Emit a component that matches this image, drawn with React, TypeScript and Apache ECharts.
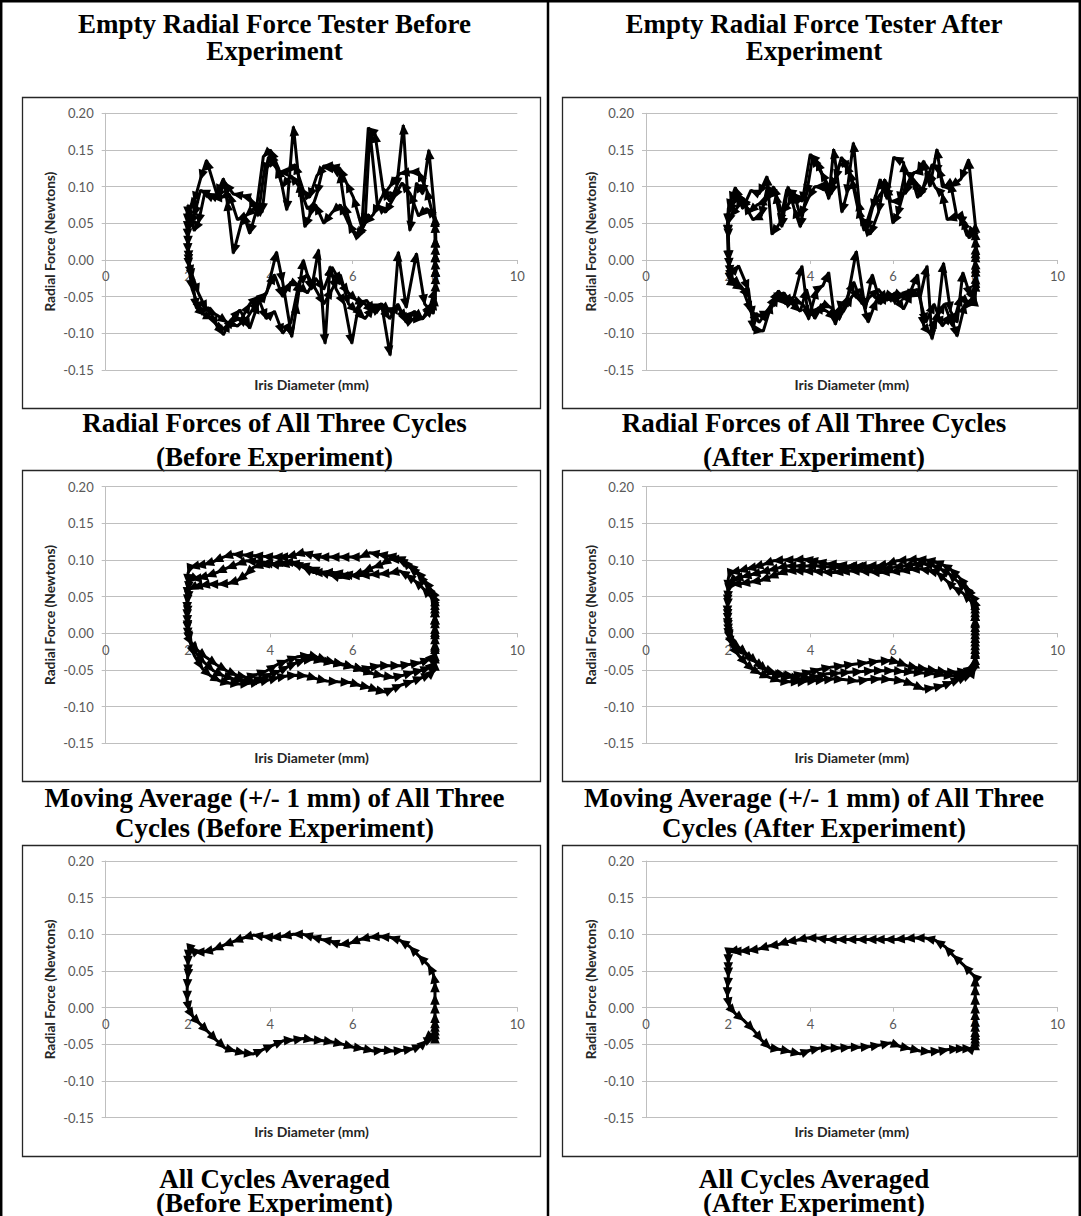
import React, { useEffect, useRef } from "react";
import * as echarts from "echarts";

type Pt = [number, number];

// ---------- axes ----------
const X_MIN = 0;
const X_MAX = 10;
const X_STEP = 2;
const Y_MIN = -0.15;
const Y_MAX = 0.2;
const Y_STEP = 0.05;
const X_AXIS_NAME = "Iris Diameter (mm)";
const Y_AXIS_NAME = "Radial Force (Newtons)";

// ---------- headings & captions ----------
const HEADINGS = [
  "Empty Radial Force Tester Before\nExperiment",
  "Empty Radial Force Tester After\nExperiment",
];
const CAPTIONS_BEFORE = [
  "Radial Forces of All Three Cycles\n(Before Experiment)",
  "Moving Average (+/- 1 mm) of All Three\nCycles (Before Experiment)",
  "All Cycles Averaged\n(Before Experiment)",
];
const CAPTIONS_AFTER = [
  "Radial Forces of All Three Cycles\n(After Experiment)",
  "Moving Average (+/- 1 mm) of All Three\nCycles (After Experiment)",
  "All Cycles Averaged\n(After Experiment)",
];

// ---------- raw cycles, before experiment ----------
const rawBeforeCycle1: Pt[] = [
  [8.0, 0.06], [7.85, 0.15], [7.7, 0.09], [7.55, 0.105], [7.39, 0.04], [7.23, 0.184], [7.07, 0.1],
  [6.9, 0.08], [6.74, 0.095], [6.54, 0.173], [6.38, 0.18], [6.22, 0.045], [6.02, 0.085], [5.85, 0.105],
  [5.69, 0.125], [5.45, 0.128], [5.29, 0.128], [5.13, 0.09], [4.95, 0.06], [4.84, 0.045], [4.7, 0.105],
  [4.56, 0.182], [4.4, 0.068], [4.2, 0.125], [4.0, 0.15], [3.83, 0.141], [3.65, 0.065], [3.5, 0.036],
  [3.35, 0.062], [3.1, 0.009], [2.95, 0.08], [2.86, 0.111], [2.7, 0.09], [2.45, 0.136], [2.3, 0.11],
  [2.15, 0.08], [2.05, 0.072],
  [2.0, 0.07], [1.98, 0.05], [2.0, 0.03], [2.02, 0.0],
  [2.1, -0.025], [2.2, -0.065], [2.4, -0.075], [2.6, -0.08], [2.86, -0.102], [3.0, -0.085], [3.26, -0.068],
  [3.5, -0.093], [3.7, -0.06], [3.91, -0.045], [4.15, 0.011], [4.3, -0.03], [4.52, -0.105], [4.65, -0.06],
  [4.8, 0.0], [5.0, -0.04], [5.17, 0.014], [5.33, -0.114], [5.45, -0.009], [5.6, -0.04], [5.8, -0.06],
  [5.98, -0.114], [6.15, -0.06], [6.34, -0.055], [6.5, -0.07], [6.7, -0.06], [6.91, -0.13], [7.11, 0.011],
  [7.3, -0.065], [7.55, 0.009], [7.75, -0.06], [7.96, -0.073],
  [8.0, -0.05], [8.02, -0.02], [8.0, 0.0], [8.02, 0.02], [8.0, 0.05],
];
const rawBeforeCycle2: Pt[] = [
  [8.0, 0.05], [7.8, 0.095], [7.6, 0.12], [7.39, 0.12], [7.15, 0.118], [6.9, 0.1], [6.7, 0.085],
  [6.5, 0.062], [6.3, 0.05], [6.14, 0.032], [6.0, 0.04], [5.8, 0.075], [5.69, 0.118], [5.5, 0.125],
  [5.3, 0.126], [5.13, 0.115], [4.95, 0.085], [4.8, 0.095], [4.6, 0.13], [4.4, 0.12], [4.2, 0.12],
  [4.0, 0.145], [3.85, 0.12], [3.7, 0.06], [3.5, 0.085], [3.3, 0.088], [3.1, 0.09], [2.9, 0.105],
  [2.7, 0.085], [2.5, 0.09], [2.3, 0.095], [2.15, 0.06], [2.05, 0.05],
  [2.0, 0.04], [2.0, 0.02], [2.02, -0.005],
  [2.1, -0.02], [2.25, -0.045], [2.45, -0.068], [2.7, -0.075], [2.95, -0.085], [3.2, -0.09], [3.45, -0.078],
  [3.7, -0.055], [3.9, -0.045], [4.1, -0.02], [4.3, -0.05], [4.5, -0.03], [4.7, -0.035], [4.9, -0.045],
  [5.1, -0.025], [5.3, -0.04], [5.5, -0.01], [5.7, -0.03], [5.9, -0.045], [6.1, -0.055], [6.3, -0.06],
  [6.5, -0.07], [6.7, -0.065], [6.9, -0.08], [7.1, -0.06], [7.3, -0.085], [7.5, -0.08], [7.7, -0.08],
  [7.9, -0.06],
  [8.0, -0.04], [8.02, -0.01], [8.0, 0.01], [8.02, 0.03], [8.0, 0.06],
];
const rawBeforeCycle3: Pt[] = [
  [8.0, 0.058], [7.8, 0.07], [7.6, 0.06], [7.4, 0.09], [7.2, 0.105], [7.0, 0.085], [6.8, 0.065],
  [6.6, 0.075], [6.42, 0.175], [6.3, 0.05], [6.1, 0.03], [5.9, 0.05], [5.7, 0.075], [5.5, 0.065],
  [5.3, 0.05], [5.1, 0.075], [4.9, 0.07], [4.7, 0.1], [4.5, 0.115], [4.3, 0.1], [4.15, 0.125],
  [3.95, 0.14], [3.8, 0.065], [3.6, 0.07], [3.4, 0.06], [3.2, 0.055], [3.0, 0.09], [2.8, 0.085],
  [2.6, 0.085], [2.4, 0.09], [2.25, 0.05], [2.15, 0.04], [2.05, 0.06], [2.0, 0.075],
  [2.0, 0.06], [1.98, 0.04], [2.0, 0.01], [2.02, -0.01],
  [2.1, -0.04], [2.3, -0.07], [2.5, -0.065], [2.7, -0.09], [2.9, -0.095], [3.1, -0.08], [3.3, -0.08],
  [3.5, -0.06], [3.7, -0.05], [3.9, -0.08], [4.1, -0.07], [4.3, -0.1], [4.5, -0.085], [4.7, -0.03],
  [4.9, -0.02], [5.1, -0.04], [5.3, -0.06], [5.5, -0.04], [5.7, -0.02], [5.9, -0.06], [6.1, -0.07],
  [6.3, -0.08], [6.5, -0.065], [6.7, -0.06], [6.9, -0.07], [7.1, -0.065], [7.3, -0.08], [7.5, -0.07],
  [7.7, -0.08], [7.95, -0.065],
  [8.0, -0.055], [8.02, -0.03], [8.0, -0.01], [8.02, 0.01], [8.0, 0.03], [8.0, 0.058],
];

// ---------- raw cycles, after experiment ----------
const rawAfterCycle1: Pt[] = [
  [8.0, 0.05], [7.84, 0.137], [7.65, 0.11], [7.4, 0.1], [7.2, 0.1], [7.07, 0.151], [6.9, 0.1],
  [6.75, 0.135], [6.6, 0.12], [6.5, 0.119], [6.3, 0.09], [6.26, 0.133], [6.02, 0.14], [5.86, 0.083],
  [5.69, 0.11], [5.5, 0.07], [5.37, 0.042], [5.21, 0.06], [5.04, 0.16], [4.88, 0.09], [4.76, 0.065],
  [4.56, 0.151], [4.44, 0.083], [4.35, 0.108], [4.15, 0.135], [3.99, 0.144], [3.8, 0.08], [3.6, 0.09],
  [3.42, 0.096], [3.25, 0.05], [3.06, 0.035], [2.94, 0.114], [2.75, 0.09], [2.55, 0.095], [2.35, 0.07],
  [2.17, 0.099], [2.05, 0.08],
  [2.0, 0.07], [1.98, 0.05], [2.0, 0.035], [2.02, 0.0],
  [2.05, -0.02], [2.25, -0.008], [2.49, -0.04], [2.61, -0.095], [2.85, -0.097], [3.05, -0.06], [3.22, -0.042],
  [3.42, -0.058], [3.6, -0.05], [3.79, -0.008], [3.95, -0.081], [4.15, -0.04], [4.3, -0.035], [4.44, -0.017],
  [4.6, -0.088], [4.75, -0.06], [4.88, -0.058], [5.11, 0.012], [5.33, -0.067], [5.5, -0.02], [5.7, -0.06],
  [5.86, -0.047], [6.05, -0.05], [6.26, -0.067], [6.45, -0.045], [6.67, -0.049], [6.83, -0.008], [6.95, -0.108],
  [7.1, -0.07], [7.23, -0.004], [7.4, -0.07], [7.56, -0.085], [7.7, -0.017], [7.88, -0.049], [8.0, -0.04],
  [8.02, -0.02], [8.0, 0.0], [8.02, 0.02], [8.0, 0.05],
];
const rawAfterCycle2: Pt[] = [
  [8.0, 0.045], [7.8, 0.033], [7.64, 0.06], [7.5, 0.058], [7.32, 0.055], [7.2, 0.09], [7.03, 0.099],
  [6.85, 0.12], [6.67, 0.087], [6.5, 0.11], [6.3, 0.1], [6.1, 0.06], [6.0, 0.05], [5.86, 0.1],
  [5.7, 0.09], [5.5, 0.075], [5.3, 0.04], [5.15, 0.07], [5.0, 0.11], [4.85, 0.13], [4.7, 0.13],
  [4.5, 0.09], [4.3, 0.1], [4.1, 0.1], [3.95, 0.085], [3.75, 0.06], [3.6, 0.09], [3.45, 0.075],
  [3.3, 0.065], [3.1, 0.1], [2.9, 0.08], [2.7, 0.075], [2.5, 0.065], [2.35, 0.085], [2.2, 0.07],
  [2.05, 0.06],
  [2.0, 0.05], [2.0, 0.03], [2.02, -0.01],
  [2.1, -0.025], [2.3, -0.035], [2.5, -0.05], [2.6, -0.076], [2.8, -0.075], [3.0, -0.07], [3.2, -0.05],
  [3.4, -0.06], [3.6, -0.055], [3.8, -0.06], [4.0, -0.075], [4.2, -0.065], [4.4, -0.07], [4.6, -0.08],
  [4.8, -0.07], [5.0, -0.05], [5.2, -0.04], [5.4, -0.085], [5.6, -0.055], [5.8, -0.05], [6.0, -0.055],
  [6.2, -0.05], [6.4, -0.045], [6.6, -0.04], [6.8, -0.085], [7.0, -0.06], [7.2, -0.09], [7.4, -0.075],
  [7.56, -0.104], [7.75, -0.06], [7.95, -0.055],
  [8.0, -0.045], [8.02, -0.025], [8.0, -0.005], [8.02, 0.015], [8.0, 0.04],
];
const rawAfterCycle3: Pt[] = [
  [8.0, 0.04], [7.85, 0.03], [7.7, 0.055], [7.55, 0.06], [7.4, 0.105], [7.25, 0.1], [7.1, 0.125],
  [6.95, 0.13], [6.8, 0.105], [6.6, 0.085], [6.45, 0.115], [6.3, 0.12], [6.15, 0.08], [5.95, 0.08],
  [5.8, 0.11], [5.65, 0.065], [5.45, 0.035], [5.3, 0.045], [5.15, 0.08], [4.95, 0.12], [4.75, 0.14],
  [4.6, 0.11], [4.45, 0.1], [4.25, 0.12], [4.05, 0.14], [3.9, 0.09], [3.75, 0.045], [3.6, 0.07],
  [3.45, 0.1], [3.3, 0.045], [3.15, 0.09], [2.95, 0.1], [2.8, 0.06], [2.6, 0.055], [2.4, 0.075],
  [2.25, 0.09], [2.1, 0.075], [2.02, 0.065],
  [2.0, 0.05], [1.98, 0.035], [2.0, 0.0],
  [2.05, -0.03], [2.2, -0.035], [2.35, -0.04], [2.55, -0.07], [2.75, -0.085], [2.95, -0.07], [3.15, -0.05],
  [3.35, -0.045], [3.55, -0.06], [3.75, -0.07], [3.9, -0.04], [4.1, -0.08], [4.3, -0.06], [4.5, -0.065],
  [4.7, -0.08], [4.9, -0.05], [5.05, -0.03], [5.25, -0.06], [5.45, -0.05], [5.65, -0.04], [5.85, -0.055],
  [6.05, -0.045], [6.25, -0.05], [6.45, -0.04], [6.6, -0.02], [6.75, -0.09], [6.9, -0.1], [7.05, -0.08],
  [7.25, -0.06], [7.45, -0.09], [7.65, -0.05], [7.85, -0.06], [7.98, -0.06],
  [8.0, -0.05], [8.02, -0.03], [8.0, -0.01], [8.02, 0.01], [8.0, 0.03],
];

// ---------- moving averages (+/- 1 mm), before experiment ----------
const movingBeforeCycle1: Pt[] = [
  [8.0, 0.045], [7.92, 0.054], [7.8, 0.065], [7.6, 0.08], [7.39, 0.09], [7.23, 0.1], [7.05, 0.104],
  [6.83, 0.106], [6.62, 0.108], [6.42, 0.11], [6.18, 0.104], [5.94, 0.104], [5.69, 0.104], [5.45, 0.104],
  [5.2, 0.104], [5.0, 0.107], [4.8, 0.11], [4.6, 0.107], [4.4, 0.104], [4.2, 0.104], [4.07, 0.104],
  [3.83, 0.105], [3.59, 0.106], [3.35, 0.107], [3.1, 0.108], [2.86, 0.104], [2.62, 0.098], [2.4, 0.094],
  [2.2, 0.092], [2.05, 0.09],
  [2.0, 0.082], [1.99, 0.068], [1.98, 0.05], [1.98, 0.03], [1.99, 0.012], [2.0, -0.005],
  [2.1, -0.015], [2.25, -0.024], [2.45, -0.033], [2.7, -0.043], [2.94, -0.051], [3.18, -0.057], [3.42, -0.06],
  [3.67, -0.056], [3.91, -0.051], [4.15, -0.043], [4.4, -0.037], [4.65, -0.032], [4.96, -0.03], [5.17, -0.033],
  [5.37, -0.037], [5.57, -0.04], [5.77, -0.042], [6.02, -0.046], [6.26, -0.049], [6.46, -0.046], [6.66, -0.044],
  [6.9, -0.044], [7.15, -0.044], [7.4, -0.042], [7.64, -0.04], [7.88, -0.035], [8.0, -0.028],
  [8.0, -0.015], [8.0, -0.002], [8.0, 0.012], [8.0, 0.025], [8.0, 0.035], [8.0, 0.045],
];
const movingBeforeCycle2: Pt[] = [
  [8.0, 0.05], [7.9, 0.06], [7.75, 0.072], [7.55, 0.085], [7.35, 0.094], [7.1, 0.101], [6.9, 0.101],
  [6.7, 0.094], [6.5, 0.09], [6.26, 0.084], [6.02, 0.079], [5.77, 0.081], [5.53, 0.083], [5.29, 0.083],
  [5.04, 0.083], [4.8, 0.09], [4.56, 0.097], [4.32, 0.097], [4.07, 0.095], [3.83, 0.097], [3.59, 0.098],
  [3.42, 0.099], [3.18, 0.094], [2.94, 0.089], [2.7, 0.083], [2.45, 0.078], [2.25, 0.075], [2.1, 0.074],
  [2.02, 0.07], [2.0, 0.058], [1.98, 0.04], [1.98, 0.02], [2.0, 0.003], [2.05, -0.01],
  [2.2, -0.027], [2.4, -0.04], [2.62, -0.051], [2.86, -0.058], [3.1, -0.062], [3.35, -0.064], [3.59, -0.065],
  [3.83, -0.06], [4.03, -0.055], [4.23, -0.051], [4.44, -0.045], [4.64, -0.04], [4.84, -0.036], [5.04, -0.035],
  [5.29, -0.038], [5.53, -0.04], [5.77, -0.043], [6.02, -0.046], [6.26, -0.051], [6.5, -0.055], [6.74, -0.058],
  [6.99, -0.06], [7.23, -0.057], [7.47, -0.053], [7.7, -0.05], [7.88, -0.046], [8.0, -0.04],
  [8.0, -0.028], [8.0, -0.012], [8.0, 0.005], [8.0, 0.02], [8.0, 0.035], [8.0, 0.05],
];
const movingBeforeCycle3: Pt[] = [
  [8.0, 0.04], [7.9, 0.05], [7.7, 0.062], [7.5, 0.072], [7.3, 0.08], [7.15, 0.085], [6.9, 0.082],
  [6.66, 0.081], [6.42, 0.08], [6.18, 0.079], [5.94, 0.079], [5.69, 0.076], [5.45, 0.08], [5.2, 0.084],
  [4.96, 0.09], [4.72, 0.094], [4.48, 0.096], [4.23, 0.093], [3.99, 0.095], [3.75, 0.093], [3.59, 0.09],
  [3.4, 0.08], [3.2, 0.072], [2.98, 0.068], [2.74, 0.067], [2.5, 0.067], [2.3, 0.065], [2.13, 0.063],
  [2.02, 0.06], [2.0, 0.045], [1.98, 0.025], [2.0, 0.005], [2.05, -0.012],
  [2.15, -0.03], [2.35, -0.048], [2.55, -0.058], [2.78, -0.065], [3.02, -0.068], [3.26, -0.069], [3.5, -0.068],
  [3.75, -0.066], [3.99, -0.063], [4.2, -0.06], [4.4, -0.058], [4.64, -0.057], [4.88, -0.058], [5.13, -0.062],
  [5.37, -0.065], [5.65, -0.066], [5.94, -0.067], [6.18, -0.071], [6.42, -0.074], [6.62, -0.078], [6.8, -0.08],
  [7.0, -0.075], [7.2, -0.07], [7.47, -0.065], [7.7, -0.06], [7.9, -0.055], [8.0, -0.05],
  [8.0, -0.038], [8.0, -0.025], [8.0, -0.01], [8.0, 0.008], [8.0, 0.025], [8.0, 0.04],
];

// ---------- moving averages (+/- 1 mm), after experiment ----------
const movingAfterCycle1: Pt[] = [
  [8.0, 0.04], [7.95, 0.048], [7.8, 0.063], [7.6, 0.077], [7.39, 0.088], [7.2, 0.094], [7.0, 0.098],
  [6.8, 0.1], [6.58, 0.101], [6.35, 0.1], [6.1, 0.099], [5.85, 0.094], [5.61, 0.092], [5.37, 0.092],
  [5.13, 0.092], [4.9, 0.092], [4.65, 0.094], [4.4, 0.095], [4.15, 0.098], [3.95, 0.1], [3.83, 0.101],
  [3.6, 0.1], [3.35, 0.1], [3.1, 0.099], [2.86, 0.094], [2.62, 0.09], [2.45, 0.088], [2.25, 0.085],
  [2.05, 0.083],
  [2.0, 0.075], [1.99, 0.06], [1.98, 0.04], [1.99, 0.02], [2.0, 0.005], [2.02, -0.005],
  [2.15, -0.015], [2.3, -0.021], [2.45, -0.028], [2.7, -0.04], [2.94, -0.051], [3.18, -0.055], [3.4, -0.057],
  [3.59, -0.058], [3.83, -0.055], [4.03, -0.052], [4.23, -0.049], [4.5, -0.046], [4.8, -0.044], [5.05, -0.042],
  [5.37, -0.04], [5.65, -0.038], [5.94, -0.037], [6.15, -0.04], [6.34, -0.044], [6.6, -0.047], [6.83, -0.049],
  [7.07, -0.051], [7.31, -0.053], [7.55, -0.053], [7.8, -0.051], [7.95, -0.045], [8.0, -0.035],
  [8.0, -0.022], [8.0, -0.01], [8.0, 0.005], [8.0, 0.02], [8.0, 0.03], [8.0, 0.04],
];
const movingAfterCycle2: Pt[] = [
  [8.0, 0.045], [7.88, 0.054], [7.72, 0.064], [7.55, 0.072], [7.35, 0.082], [7.15, 0.088], [6.95, 0.093],
  [6.74, 0.095], [6.5, 0.094], [6.26, 0.092], [6.02, 0.09], [5.77, 0.088], [5.53, 0.089], [5.3, 0.091],
  [5.05, 0.091], [4.85, 0.09], [4.64, 0.09], [4.4, 0.091], [4.15, 0.092], [3.9, 0.092], [3.65, 0.092],
  [3.42, 0.092], [3.2, 0.089], [2.98, 0.086], [2.78, 0.083], [2.55, 0.08], [2.33, 0.077], [2.13, 0.074],
  [2.02, 0.068], [2.0, 0.055], [1.98, 0.035], [1.99, 0.015], [2.02, 0.0], [2.05, -0.01],
  [2.25, -0.02], [2.45, -0.03], [2.62, -0.037], [2.86, -0.047], [3.1, -0.055], [3.35, -0.058], [3.55, -0.06],
  [3.75, -0.062], [3.99, -0.06], [4.2, -0.058], [4.4, -0.055], [4.7, -0.054], [4.96, -0.053], [5.25, -0.052],
  [5.53, -0.051], [5.77, -0.051], [6.02, -0.051], [6.26, -0.052], [6.5, -0.053], [6.74, -0.054], [6.99, -0.055],
  [7.23, -0.057], [7.47, -0.058], [7.7, -0.056], [7.88, -0.053], [8.0, -0.045],
  [8.0, -0.03], [8.0, -0.015], [8.0, 0.0], [8.0, 0.015], [8.0, 0.03], [8.0, 0.045],
];
const movingAfterCycle3: Pt[] = [
  [8.0, 0.035], [7.88, 0.045], [7.7, 0.055], [7.47, 0.063], [7.3, 0.072], [7.07, 0.083], [6.85, 0.086],
  [6.66, 0.088], [6.42, 0.087], [6.18, 0.085], [5.94, 0.084], [5.69, 0.083], [5.45, 0.084], [5.2, 0.085],
  [4.96, 0.085], [4.72, 0.084], [4.56, 0.083], [4.3, 0.084], [4.07, 0.085], [3.83, 0.085], [3.6, 0.086],
  [3.42, 0.085], [3.2, 0.081], [2.98, 0.076], [2.78, 0.072], [2.55, 0.07], [2.3, 0.068], [2.09, 0.067],
  [2.0, 0.06], [1.98, 0.045], [1.98, 0.025], [2.0, 0.008], [2.05, -0.008], [2.09, -0.017],
  [2.25, -0.03], [2.45, -0.042], [2.62, -0.05], [2.78, -0.055], [3.0, -0.06], [3.26, -0.065], [3.5, -0.066],
  [3.75, -0.066], [3.91, -0.065], [4.15, -0.064], [4.35, -0.063], [4.56, -0.062], [4.8, -0.063], [5.13, -0.065],
  [5.4, -0.063], [5.69, -0.062], [5.95, -0.063], [6.26, -0.065], [6.5, -0.07], [6.74, -0.076], [7.0, -0.074],
  [7.23, -0.071], [7.45, -0.066], [7.64, -0.062], [7.8, -0.058], [7.92, -0.055], [8.0, -0.048],
  [8.0, -0.035], [8.0, -0.02], [8.0, -0.005], [8.0, 0.01], [8.0, 0.022], [8.0, 0.035],
];

// ---------- all cycles averaged ----------
const averagedBefore: Pt[] = [
  [8.0, -0.042], [8.0, -0.036], [8.0, -0.03], [8.0, -0.025], [8.0, -0.02], [8.0, -0.015], [8.0, -0.008],
  [8.0, 0.005], [8.0, 0.017], [8.0, 0.034], [7.96, 0.046],
  [7.84, 0.058], [7.6, 0.071], [7.39, 0.083], [7.15, 0.092], [6.91, 0.096], [6.66, 0.097], [6.42, 0.096],
  [6.18, 0.093], [5.94, 0.088], [5.69, 0.086], [5.45, 0.091], [5.25, 0.093], [5.0, 0.097], [4.8, 0.1],
  [4.56, 0.1], [4.28, 0.097], [4.03, 0.096], [3.83, 0.097], [3.59, 0.099], [3.34, 0.095], [3.1, 0.09],
  [2.86, 0.085], [2.62, 0.079], [2.37, 0.076], [2.17, 0.076], [2.05, 0.082],
  [2.01, 0.074], [2.0, 0.066], [2.0, 0.058], [2.0, 0.046], [1.99, 0.04], [1.98, 0.026], [1.98, 0.01],
  [2.03, -0.004], [2.13, -0.013], [2.29, -0.022], [2.49, -0.033], [2.7, -0.045], [2.9, -0.055], [3.14, -0.059],
  [3.38, -0.062], [3.59, -0.063], [3.83, -0.057], [4.07, -0.051], [4.32, -0.045], [4.56, -0.044], [4.8, -0.042],
  [5.04, -0.044], [5.29, -0.045], [5.53, -0.047], [5.77, -0.05], [6.02, -0.054], [6.26, -0.056], [6.5, -0.059],
  [6.74, -0.058], [6.99, -0.059], [7.23, -0.058], [7.47, -0.056], [7.68, -0.051], [7.8, -0.045], [7.96, -0.041],
  [8.0, -0.042],
];
const averagedAfter: Pt[] = [
  [8.0, -0.049], [8.0, -0.045], [8.0, -0.04], [8.0, -0.036], [8.0, -0.031], [8.0, -0.027], [8.0, -0.02],
  [8.0, -0.013], [8.0, -0.004], [8.0, 0.005], [8.0, 0.017], [8.0, 0.03], [8.0, 0.042], [7.92, 0.046],
  [7.72, 0.058], [7.47, 0.071], [7.27, 0.083], [7.03, 0.092], [6.79, 0.095], [6.54, 0.095], [6.3, 0.094],
  [6.06, 0.093], [5.81, 0.093], [5.57, 0.093], [5.37, 0.093], [5.13, 0.093], [4.88, 0.093], [4.64, 0.093],
  [4.4, 0.093], [4.15, 0.095], [3.91, 0.095], [3.67, 0.092], [3.42, 0.09], [3.22, 0.086], [2.98, 0.084],
  [2.74, 0.08], [2.49, 0.078], [2.29, 0.077], [2.09, 0.077], [2.01, 0.076],
  [2.0, 0.069], [2.0, 0.06], [2.0, 0.049], [2.0, 0.042], [1.98, 0.028], [1.98, 0.015], [2.03, 0.001],
  [2.17, -0.008], [2.37, -0.017], [2.62, -0.031], [2.82, -0.045], [3.02, -0.055], [3.26, -0.057], [3.51, -0.06],
  [3.75, -0.063], [3.99, -0.058], [4.23, -0.055], [4.48, -0.055], [4.72, -0.055], [4.96, -0.054], [5.21, -0.054],
  [5.45, -0.053], [5.69, -0.051], [5.94, -0.048], [6.18, -0.053], [6.42, -0.056], [6.66, -0.059], [6.91, -0.06],
  [7.15, -0.059], [7.35, -0.057], [7.6, -0.056], [7.76, -0.056], [7.92, -0.056], [8.0, -0.051],
];

// Panels in reading order: row by row, before (left) then after (right).
const PANEL_SERIES: Pt[][][] = [
  [rawBeforeCycle1, rawBeforeCycle2, rawBeforeCycle3],
  [rawAfterCycle1, rawAfterCycle2, rawAfterCycle3],
  [movingBeforeCycle1, movingBeforeCycle2, movingBeforeCycle3],
  [movingAfterCycle1, movingAfterCycle2, movingAfterCycle3],
  [averagedBefore],
  [averagedAfter],
];

// ---------- page layout (pixels) ----------
const PAGE_W = 1081;
const PAGE_H = 1216;
const COLS = [
  { center: 274.5, boxX: 22, boxW: 518, plotX: 105.7, plotW: 411.6 },
  { center: 814, boxX: 562, boxW: 515, plotX: 646, plotW: 411.5 },
];
const ROWS = [
  { boxY: 97, plotY: 113.3 },
  { boxY: 470, plotY: 486.7 },
  { boxY: 845, plotY: 861 },
];
const BOX_H = 311;
const PLOT_H = 256.7;
// centre and line pitch of each two-line title block
const HEADING_BLOCK = { y: 37.5, pitch: 27 };
const CAPTION_BLOCKS = [
  { y: 439.75, pitch: 34.5 },
  { y: 813, pitch: 30 },
  { y: 1191, pitch: 23.5 },
];

const TITLE_FONT = {
  fontFamily: '"Liberation Serif", "Times New Roman", serif',
  fontWeight: "bold" as const,
  fontSize: 27,
};
const AXIS_FONT = '"Lato", "Open Sans", sans-serif';

// Arrowhead at the end of each segment, pointing along the direction of travel.
function renderArrow(_params: any, api: any) {
  const p = api.coord([api.value(0), api.value(1)]);
  const q = api.coord([api.value(2), api.value(3)]);
  const dx = p[0] - q[0];
  const dy = p[1] - q[1];
  const len = Math.hypot(dx, dy);
  if (len < 0.01) return { type: "group", children: [] };
  const ux = dx / len;
  const uy = dy / len;
  const nx = -uy;
  const ny = ux;
  const back = 9.5;
  const half = 4.8;
  const tip = 1.5;
  return {
    type: "polygon",
    shape: {
      points: [
        [p[0] + ux * tip, p[1] + uy * tip],
        [p[0] - ux * back + nx * half, p[1] - uy * back + ny * half],
        [p[0] - ux * back - nx * half, p[1] - uy * back - ny * half],
      ],
    },
    style: { fill: "#000" },
  };
}

function titleBlock(text: string, x: number, block: { y: number; pitch: number }) {
  return {
    type: "text",
    x,
    y: block.y,
    style: {
      text,
      fill: "#000",
      align: "center",
      verticalAlign: "middle",
      lineHeight: block.pitch,
      ...TITLE_FONT,
    },
  };
}

function buildOption() {
  const grids: any[] = [];
  const xAxes: any[] = [];
  const yAxes: any[] = [];
  const series: any[] = [];
  const graphic: any[] = [];

  // table rules
  const rule = { stroke: "#000", lineWidth: 2.5 };
  graphic.push(
    { type: "line", shape: { x1: 1.2, y1: 0, x2: 1.2, y2: PAGE_H }, style: rule },
    { type: "line", shape: { x1: 0, y1: 1.2, x2: PAGE_W, y2: 1.2 }, style: rule },
    { type: "line", shape: { x1: PAGE_W - 1.2, y1: 0, x2: PAGE_W - 1.2, y2: PAGE_H }, style: rule },
    { type: "line", shape: { x1: 548, y1: 0, x2: 548, y2: PAGE_H }, style: rule }
  );

  COLS.forEach((col, c) => {
    graphic.push(titleBlock(HEADINGS[c], col.center, HEADING_BLOCK));
    const caps = c === 0 ? CAPTIONS_BEFORE : CAPTIONS_AFTER;
    caps.forEach((cap, r) => graphic.push(titleBlock(cap, col.center, CAPTION_BLOCKS[r])));
  });

  // the horizontal axis sits on the zero line of the force axis
  const zeroOffset = (PLOT_H * (0 - Y_MIN)) / (Y_MAX - Y_MIN);

  PANEL_SERIES.forEach((cycles, i) => {
    const col = COLS[i % 2];
    const row = ROWS[Math.floor(i / 2)];

    graphic.push({
      type: "rect",
      shape: { x: col.boxX + 0.5, y: row.boxY + 0.5, width: col.boxW, height: BOX_H },
      style: { fill: "none", stroke: "#262626", lineWidth: 1.3 },
    });
    graphic.push({
      type: "text",
      x: col.plotX + col.plotW / 2,
      y: row.plotY + PLOT_H + 14,
      style: {
        text: X_AXIS_NAME, fill: "#262626", align: "center", verticalAlign: "middle",
        fontFamily: AXIS_FONT, fontWeight: "bold", fontSize: 14,
      },
    });
    graphic.push({
      type: "text",
      x: col.plotX - 56,
      y: row.plotY + PLOT_H / 2,
      rotation: Math.PI / 2,
      style: {
        text: Y_AXIS_NAME, fill: "#262626", align: "center", verticalAlign: "middle",
        fontFamily: AXIS_FONT, fontWeight: "bold", fontSize: 13.7,
      },
    });

    grids.push({ left: col.plotX, top: row.plotY, width: col.plotW, height: PLOT_H, containLabel: false });
    const axisGray = { color: "#bfbfbf", width: 1 };
    xAxes.push({
      type: "value",
      gridIndex: i,
      position: "bottom",
      offset: -zeroOffset,
      min: X_MIN,
      max: X_MAX,
      interval: X_STEP,
      axisLine: { show: true, onZero: false, lineStyle: axisGray },
      axisTick: { show: true, length: 4, lineStyle: axisGray },
      axisLabel: { color: "#595959", fontFamily: AXIS_FONT, fontSize: 13, margin: 10 },
      splitLine: { show: false },
    });
    yAxes.push({
      type: "value",
      gridIndex: i,
      min: Y_MIN,
      max: Y_MAX,
      interval: Y_STEP,
      axisLine: { show: true, onZero: false, lineStyle: axisGray },
      axisTick: { show: true, length: 4, lineStyle: axisGray },
      axisLabel: {
        color: "#595959", fontFamily: AXIS_FONT, fontSize: 13, margin: 12,
        formatter: (v: number) => (Math.abs(v) < 1e-9 ? 0 : v).toFixed(2),
      },
      splitLine: { show: true, lineStyle: { color: "#bfbfbf", width: 1 } },
    });

    cycles.forEach((pts) => {
      series.push({
        type: "line",
        xAxisIndex: i,
        yAxisIndex: i,
        data: pts,
        symbol: "none",
        showSymbol: false,
        silent: true,
        lineStyle: { color: "#000", width: 3 },
        z: 3,
      });
      series.push({
        type: "custom",
        xAxisIndex: i,
        yAxisIndex: i,
        clip: false,
        silent: true,
        z: 4,
        encode: { x: 0, y: 1 },
        data: pts.slice(1).map((p, k) => [p[0], p[1], pts[k][0], pts[k][1]]),
        renderItem: renderArrow,
      });
    });
  });

  return {
    animation: false,
    backgroundColor: "#fff",
    grid: grids,
    xAxis: xAxes,
    yAxis: yAxes,
    series,
    graphic,
  };
}

export default function App() {
  const ref = useRef<HTMLDivElement>(null);
  useEffect(() => {
    if (!ref.current) return;
    const chart = echarts.init(ref.current, undefined, { renderer: "svg" });
    chart.setOption(buildOption() as any);
    return () => chart.dispose();
  }, []);
  return (
    <div
      ref={ref}
      style={{ position: "absolute", left: 0, top: 0, width: PAGE_W, height: PAGE_H, background: "#fff" }}
    />
  );
}
